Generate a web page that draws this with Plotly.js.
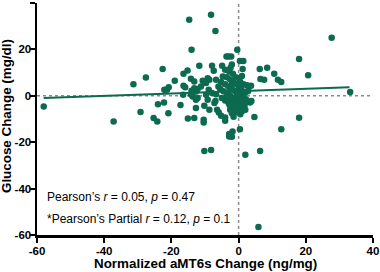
<!DOCTYPE html>
<html>
<head>
<meta charset="utf-8">
<script src="https://cdn.plot.ly/plotly-3.0.1.min.js"></script>
<style>html,body{margin:0;padding:0;background:#fff;}#chart{width:380px;height:272px;}</style>
</head>
<body>
<div id="chart"></div>
<script>
// Normalized aMT6s change (ng/mg)
const aMT6sChange = [
 -58,-37.2,-31.3,-27.6,-29.2,-25.3,-24.2,-24.0,-22.6,-22.1,-21.3,-20.8,-22.2,-20.9,-19.0,-17.3,-16.4,-15.9,-16.4,-16.5,
 -15.2,-14.7,-15.1,-8.2,-6.9,-14.0,-0.4,27.7,18.0,20.7,33.2,6.3,8.5,10.6,11.7,12.7,6.5,7.6,1.4,0.4,
 -3.0,-2.2,-7.9,-11.7,-7.4,-4.9,-2.0,-2.4,-4.0,-2.8,1.2,0.2,4.7,18.0,12.7,0.4,-1.8,-2.8,3.4,3.8,
 3.0,3.7,-12.7,-10.2,-9.2,-13.2,-10.4,-10.4,-7.2,-6.9,-6.4,-5.9,-5.2,-4.0,-4.0,-2.5,-2.0,-2.3,-14.2,-13.2,
 -10.7,-9.7,-8.7,-6.7,-4.7,-5.2,-13.2,-12.2,-11.2,-14.2,-13.7,-12.7,-9.7,-8.9,-7.9,-6.7,-12.7,-12.2,-8.7,-2.8,
 -2.0,-10.2,-8.2,2.0,6.4,5.9,-14.0,-9.7,-9.2,-3.6,
 -3.5,-2.5,-1.5,-0.5,0.5,1.5,2.5,-4.0,-3.0,-2.0,-1.0,0.0,1.0,2.0,-4.5,-3.5,-2.5,-1.5,-0.5,0.5,
 1.5,2.2,-4.0,-3.0,-2.0,-1.0,0.0,1.0,1.8,-3.5,-1.0,0.0,1.0,2.0,-0.5,0.5,-1.5,-3.0,-2.0,0.3,
 -0.8,1.0,-5.5,-5.0,-6.0,2.8,1.1,-1.2,-0.2,0.8,-2.7,-1.7
];
// Glucose change (mg/dl)
const glucoseChange = [
 -4.6,-11.1,5.0,7.9,-7.0,-9.6,-11.1,-3.6,11.5,2.6,2.6,3.7,-2.9,-7.5,6.5,-4.0,4.3,3.7,9.5,0.4,
 10.9,32.8,-9.8,34.9,27.9,19.8,19.9,25.0,15.9,8.9,1.6,11.5,12.1,9.5,6.9,6.0,7.2,6.9,15.0,15.0,
 16.9,16.9,12.9,12.9,10.8,12.9,13.5,12.1,11.2,10.5,11.5,7.6,-9.1,-9.5,-14.4,-14.4,-15.4,-16.5,-2.9,-2.2,
 3.7,4.3,-5.3,-4.3,-1.7,-9.6,-10.3,-11.5,-3.1,-2.2,-6.0,-7.2,-8.6,-9.4,-10.8,-6.0,-7.5,-4.3,7.3,6.2,
 6.5,5.5,6.9,6.9,8.3,5.9,3.3,2.9,4.0,0.7,-0.3,1.9,0.4,2.6,1.2,0.7,-1.7,-1.0,-6.0,-17.5,
 -17.7,-23.8,-23.4,-25.4,-23.8,-56.6,2.2,6.2,7.6,16.9,
 8.0,7.0,6.0,5.0,6.0,5.0,4.5,5.0,4.0,3.0,2.0,3.0,2.0,1.5,2.0,1.0,0.0,-1.0,0.0,-1.0,
 0.5,-1.5,-2.0,-3.0,-2.0,-3.0,-2.0,-3.0,-4.0,-1.0,-5.0,-4.5,-5.5,-6.0,-7.0,-8.0,-9.0,1.5,5.0,4.0,
 8.0,8.5,3.0,-1.0,4.0,2.0,-6.5,-6.0,1.0,3.5,-4.0,9.5
];
// Linear fit line endpoints
const fitX = [-58, 33];
const fitY = [-1.0, 3.7];
const tickVals = [-60, -40, -20, 0, 20, 40];
const xTitle = 'Normalized aMT6s Change (ng/mg)';
const yTitle = 'Glucose Change (mg/dl)';
const statsLines = [
 "Pearson’s <i>r</i> = 0.05, <i>p</i> = 0.47",
 "*Pearson’s Partial <i>r</i> = 0.12, <i>p</i> = 0.1"
];
const statsY = [-43.5, -53];

const green = '#0b6a4f';
const font = 'Liberation Sans, Arial, sans-serif';

const traces = [
 {x: aMT6sChange, y: glucoseChange, type: 'scatter', mode: 'markers',
  marker: {color: green, size: 6.5}, hoverinfo: 'skip'},
 {x: fitX, y: fitY, type: 'scatter', mode: 'lines',
  line: {color: green, width: 2}, hoverinfo: 'skip'}
];

const axisCommon = {
 showgrid: false, zeroline: false, showline: true, linecolor: '#000', linewidth: 2.5,
 ticks: 'outside', ticklen: 5, tickwidth: 2, tickcolor: '#000',
 tickvals: tickVals, ticktext: tickVals.map(String),
 tickfont: {family: font, size: 11.5, color: '#000', weight: 'bold'},
 range: [-60, 40], fixedrange: true
};

const titleFont = {family: font, size: 13.4, weight: 'bold', color: '#000'};

const layout = {
 width: 380, height: 272,
 margin: {l: 37, r: 7, t: 3, b: 37},
 paper_bgcolor: '#fff', plot_bgcolor: '#fff',
 showlegend: false,
 font: {family: font, color: '#000'},
 xaxis: Object.assign({}, axisCommon, {ticklabelstandoff: -1}),
 yaxis: Object.assign({}, axisCommon, {ticklabelstandoff: -4}),
 shapes: [
  {type: 'line', xref: 'x', yref: 'y', x0: 0, x1: 0, y0: -60, y1: 40, line: {color: '#8a8a8a', width: 1.5, dash: 'dot'}, layer: 'below'},
  {type: 'line', xref: 'x', yref: 'y', x0: -60, x1: 40, y0: 0, y1: 0, line: {color: '#8a8a8a', width: 1.5, dash: 'dot'}, layer: 'below'}
 ],
 annotations: statsLines.map((t, i) => ({
  text: t, xref: 'x', yref: 'y', x: -57.5, y: statsY[i], xanchor: 'left', yanchor: 'middle',
  showarrow: false, font: {family: font, size: 12, color: '#000'}
 })).concat([
  {text: xTitle, xref: 'paper', yref: 'paper', x: 0.5, y: -0.124, xanchor: 'center', yanchor: 'middle',
   showarrow: false, font: titleFont},
  {text: yTitle, xref: 'paper', yref: 'paper', x: -0.0905, y: 0.511, xanchor: 'center', yanchor: 'middle',
   textangle: -90, showarrow: false, font: titleFont}
 ])
};

Plotly.newPlot('chart', traces, layout, {staticPlot: true, displayModeBar: false});
</script>
</body>
</html>
